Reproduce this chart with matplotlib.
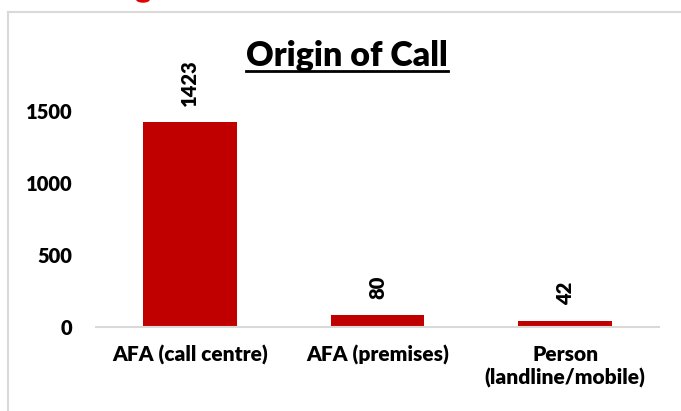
import matplotlib.pyplot as plt
from matplotlib.lines import Line2D
from matplotlib.patches import Ellipse

# données du graphique
categories = ['AFA (call centre)', 'AFA (premises)', 'Person\n(landline/mobile)']
calls = [1423, 80, 42]
y_ticks = [0, 500, 1000, 1500]

bar_color = '#C00000'
plt.rcParams['font.family'] = ['Lato', 'DejaVu Sans']
weight = 'heavy'

W, H = 681, 411
fig = plt.figure(figsize=(W / 100, H / 100), dpi=100)

# cadre gris clair autour du graphique
fig.add_artist(Line2D([8 / W, 8 / W], [0, 1 - 12 / H], color='#D9D9D9', lw=1.5,
                      transform=fig.transFigure))
fig.add_artist(Line2D([8 / W, 1], [1 - 12 / H, 1 - 12 / H], color='#D9D9D9', lw=1.5,
                      transform=fig.transFigure))

# petit bout rouge coupé en haut (reste d'un texte hors cadre)
fig.add_artist(Ellipse((143 / W, 1 + 1 / H), 13 / W, 6 / H, color='#E00000',
                       transform=fig.transFigure))

ax = fig.add_axes([96 / W, 84 / H, 563 / W, (327 - 96.6) / H])
x = range(len(categories))
bars = ax.bar(x, calls, width=0.5, color=bar_color)

ax.set_xlim(-0.5, 2.5)
ax.set_ylim(0, 1600)
ax.set_yticks(y_ticks)
ax.set_yticklabels([str(t) for t in y_ticks], fontsize=14.5, fontweight=weight)
ax.set_xticks(list(x))
ax.set_xticklabels(categories, fontsize=15, fontweight=weight, linespacing=1.25)

for s in ['top', 'right', 'left']:
    ax.spines[s].set_visible(False)
ax.spines['bottom'].set_color('#D9D9D9')
ax.spines['bottom'].set_linewidth(1.5)
ax.tick_params(axis='both', length=0)
ax.tick_params(axis='y', pad=17)
ax.tick_params(axis='x', pad=13)

# étiquettes de valeur verticales
for b, v in zip(bars, calls):
    ax.annotate(str(v), (b.get_x() + b.get_width() / 2, v), xytext=(0, 16),
                textcoords='offset pixels', rotation=90, ha='center', va='bottom',
                fontsize=14.5, fontweight=weight)

title = fig.text(347 / W, 1 - 56 / H, 'Origin of Call', ha='center', va='center',
                 fontsize=24.5, fontweight=weight)
# soulignement du titre, calé sur la largeur du texte
fig.canvas.draw()
bb = title.get_window_extent().transformed(fig.transFigure.inverted())
fig.add_artist(Line2D([bb.x0, bb.x1], [1 - 71 / H, 1 - 71 / H], color='black',
                      lw=2, transform=fig.transFigure))

fig.savefig('out.png', dpi=100)
